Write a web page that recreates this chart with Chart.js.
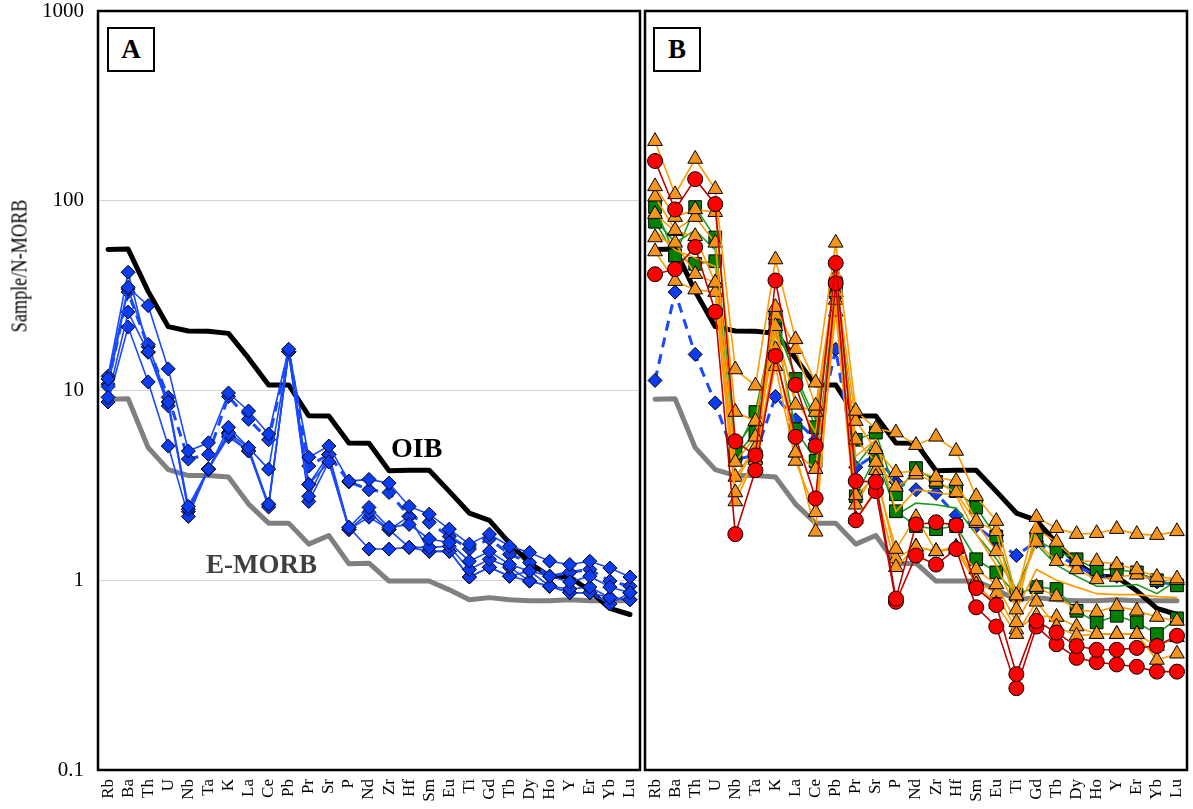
<!DOCTYPE html>
<html>
<head>
<meta charset="utf-8">
<script src="https://cdn.jsdelivr.net/npm/chart.js@4"></script>
<style>
  html, body { margin: 0; padding: 0; background: #fff; }
  #wrap { position: relative; width: 1193px; height: 809px; overflow: hidden; background: #fff; font-family: 'Liberation Serif', 'Times New Roman', serif; }
  canvas { position: absolute; top: 0; }
  #cA { left: 0; }
  #cB { left: 642px; }
  .lbl { position: absolute; font-family: 'Liberation Serif', serif; color: #000; white-space: nowrap; }
  .box { position: absolute; width: 44px; height: 41px; border: 2px solid #000; background: #fff; font-weight: bold; font-size: 27px; text-align: center; line-height: 41px; font-family: 'Liberation Serif', serif; }
  #ytitle { position: absolute; left: 19px; top: 266px; transform: translate(-50%, -50%) rotate(-90deg) scale(0.76, 1); font-size: 24px; font-family: 'Liberation Serif', serif; white-space: nowrap; }
</style>
</head>
<body>
<div id="wrap">
  <canvas id="cA" width="642" height="809"></canvas>
  <canvas id="cB" width="551" height="809"></canvas>
  <div id="ytitle">Sample/N-MORB</div>
  <div class="box" style="left:107px; top:27px;">A</div>
  <div class="box" style="left:653px; top:27px;">B</div>
  <div class="lbl" style="left:391px; top:432px; font-size:28px; font-weight:bold;">OIB</div>
  <div class="lbl" style="left:206px; top:549px; font-size:27px; font-weight:bold; color:#3f3f3f;">E-MORB</div>
</div>
<script>
// ---------- categories & ticks ----------
const elements = ['Rb','Ba','Th','U','Nb','Ta','K','La','Ce','Pb','Pr','Sr','P','Nd','Zr','Hf','Sm','Eu','Ti','Gd','Tb','Dy','Ho','Y','Er','Yb','Lu'];
const tickValues = [0.1, 1, 10, 100, 1000];

// ---------- reference lines (normalised to N-MORB) ----------
const oib   = [55.4, 55.6, 33.3, 21.7, 20.6, 20.5, 20, 14.8, 10.7, 10.7, 7.35, 7.33, 5.29, 5.27, 3.78, 3.80, 3.80, 2.94, 2.26, 2.07, 1.57, 1.23, 1.05, 1.04, 0.88, 0.71, 0.66];
const emorb = [9.0, 9.05, 5.0, 3.83, 3.56, 3.56, 3.5, 2.52, 2.0, 2.0, 1.55, 1.72, 1.22, 1.23, 0.99, 0.99, 0.99, 0.89, 0.79, 0.81, 0.79, 0.78, 0.78, 0.79, 0.78, 0.78, 0.78];

// ---------- panel A samples ----------
const a1 = [11.5, 35, 28, 13, 4.8, 5.3, 9.7, 7.8, 5.9, 16.5, 4.45, 5.1, 3.33, 3.4, 3.25, 2.45, 2.23, 1.86, 1.55, 1.75, 1.51, 1.40, 1.26, 1.21, 1.26, 1.16, 1.04];
const a2 = [11.9, 42, 16, 8.7, 2.45, 3.85, 6.4, 5.0, 3.85, 16, 3.2, 4.2, 1.9, 2.42, 1.9, 1.97, 1.65, 1.58, 1.26, 1.42, 1.21, 1.12, 1.05, 0.98, 1.05, 0.92, 0.86];
const a3 = [9.2, 25.9, 15.9, 8.3, 2.37, 3.85, 5.9, 4.8, 2.52, 16, 2.77, 4.6, 1.85, 2.28, 1.85, 1.49, 1.49, 1.51, 1.14, 1.29, 1.17, 0.99, 0.93, 0.90, 0.92, 0.81, 0.79];
const a4 = [8.7, 21.6, 11.1, 5.1, 2.17, 3.85, 5.7, 4.8, 2.43, 16, 2.6, 4.2, 1.85, 2.15, 1.85, 2.17, 1.42, 1.42, 1.04, 1.17, 1.05, 1.12, 0.93, 0.86, 0.86, 0.75, 0.86];
const a5 = [10.5, 34.2, 17.5, 8.7, 2.3, 3.85, 6.0, 5.0, 2.5, 16, 3.2, 4.6, 1.9, 1.46, 1.46, 1.49, 1.42, 1.42, 1.04, 1.17, 1.05, 0.99, 0.93, 0.86, 0.86, 0.81, 0.79];
const aDashed = [10.8, 33, 17, 9.2, 4.35, 4.6, 9.3, 7.05, 5.5, 16, 4.0, 4.6, 3.3, 3.0, 2.9, 2.17, 2.02, 1.7, 1.46, 1.65, 1.37, 1.24, 1.05, 1.10, 1.14, 0.99, 0.93];

// ---------- panel B samples ----------
const bDashed = [11.3, 33, 15.5, 8.6, 4.3, 4.6, 9.3, 7.0, 5.5, 16.5, 3.94, 4.6, 3.3, 3.0, 2.87, 2.2, 1.93, 1.6, 1.35, 1.6, 1.35, 1.2, 1.05, 1.05, 1.1, 0.98, 0.95];
const red1 = [162, 90, 130, 96, 5.4, 4.55, 38, 10.7, 5.1, 47, 3.33, 3.3, 0.8, 1.97, 2.02, 1.95, 0.91, 0.74, 0.32, 0.61, 0.53, 0.45, 0.43, 0.43, 0.44, 0.45, 0.51];
const red2 = [41, 43.6, 57, 26, 1.75, 3.8, 15.2, 5.7, 2.7, 36.7, 2.07, 2.95, 0.77, 1.35, 1.21, 1.46, 0.72, 0.57, 0.27, 0.57, 0.46, 0.39, 0.37, 0.36, 0.35, 0.33, 0.33];
const green1 = [92.6, 51.5, 92.6, 64, 4.7, 7.7, 24.3, 11.5, 6.4, 36.7, 5.5, 6.0, 2.84, 3.9, 3.3, 2.95, 2.42, 1.7, 0.84, 1.64, 1.42, 1.29, 1.14, 1.14, 1.1, 1.0, 0.94];
const green2 = [77.5, 51.5, 46.5, 48, 4.5, 6.0, 21, 6.25, 4.25, 33, 2.77, 4.5, 2.31, 1.93, 1.86, 1.93, 1.29, 1.1, 0.84, 0.92, 0.90, 0.69, 0.60, 0.65, 0.60, 0.52, 0.63];
const greenLine = [80, 60, 70, 55, 5, 7, 22, 12, 7, 38, 4.0, 5.5, 2.2, 2.55, 2.5, 2.4, 1.75, 1.3, 0.9, 1.55, 1.2, 1.05, 0.93, 0.93, 0.95, 0.85, 1.0];
const orange1 = [206, 108, 166, 115, 12.9, 10.6, 49, 18.6, 11.0, 60, 7.8, 6.3, 6.0, 5.15, 5.7, 4.8, 2.77, 2.05, 0.83, 2.15, 1.88, 1.75, 1.77, 1.86, 1.75, 1.73, 1.81];
const orange2 = [119, 82, 90, 87, 7.7, 6.9, 27.5, 16.5, 8.3, 40, 6.9, 4.9, 3.7, 3.75, 3.5, 3.33, 2.05, 1.81, 0.70, 1.86, 1.59, 1.26, 1.26, 1.21, 1.14, 1.04, 1.02];
const orange3 = [105, 70, 82, 60, 4.2, 5.7, 21.8, 8.4, 7.7, 33, 5.5, 4.2, 3.1, 3.6, 3.3, 2.9, 2.0, 1.42, 0.83, 1.59, 1.26, 1.14, 1.01, 1.04, 1.07, 1.0, 1.0];
const orange4 = [85, 69, 65, 37, 2.9, 4.3, 16.5, 4.7, 3.85, 30, 2.8, 3.5, 1.46, 2.15, 1.42, 1.46, 1.14, 0.95, 0.60, 0.92, 0.82, 0.70, 0.68, 0.73, 0.69, 0.64, 0.61];
const orange5 = [54, 37.7, 34, 33, 2.6, 4.4, 13.4, 4.25, 2.28, 26, 2.1, 3.0, 1.17, 1.5, 1.42, 1.46, 0.95, 0.75, 0.52, 0.77, 0.57, 0.51, 0.52, 0.52, 0.52, 0.38, 0.41];
const orange6 = [64, 60, 41, 37, 3.5, 5.0, 25, 4.7, 1.8, 33, 2.5, 3.8, 1.3, 1.5, 1.42, 1.5, 1.0, 0.85, 0.55, 0.65, 0.64, 0.57, 0.52, 0.52, 0.52, 0.45, 0.5];
const orangeLine = [70, 55, 50, 45, 3.3, 5.0, 20, 9, 6, 35, 4.5, 5.5, 2.3, 3.0, 2.9, 2.8, 1.75, 1.2, 0.70, 1.14, 1.0, 0.92, 0.85, 0.84, 0.84, 0.82, 0.81];

// ---------- styles ----------
const BLUE_LINE = '#1848ff', BLUE_FILL = '#0b3cf0';
const ORANGE_LINE = '#ff9a00', ORANGE_FILL = '#f7941d';
const RED_LINE = '#c00000', RED_FILL = '#ff0000';
const GREEN_LINE = '#1f9a1f', GREEN_FILL = '#008000';

function refLine(data, color) {
  return { data, borderColor: color, borderWidth: 5, pointRadius: 0, fill: false, order: 10, borderCapStyle: 'round', borderJoinStyle: 'round' };
}
function blueSolid(data) {
  return { data, borderColor: BLUE_LINE, borderWidth: 1.6, pointStyle: 'rectRot', pointRadius: 7,
    pointBackgroundColor: BLUE_FILL, pointBorderColor: '#000', pointBorderWidth: 1, fill: false, order: 3 };
}
function blueDashed(data, order) {
  return { data, borderColor: BLUE_LINE, borderWidth: 3, borderDash: [10, 7], pointStyle: 'rectRot', pointRadius: 7,
    pointBackgroundColor: BLUE_FILL, pointBorderColor: '#000', pointBorderWidth: 1, fill: false, order };
}
function series(data, line, fillC, style, radius, order) {
  return { data, borderColor: line, borderWidth: 1.6, pointStyle: style, pointRadius: radius,
    pointBackgroundColor: fillC, pointBorderColor: '#000', pointBorderWidth: 1, fill: false, order };
}
function plainLine(data, line, order) {
  return { data, borderColor: line, borderWidth: 1.6, pointRadius: 0, fill: false, order };
}

const framePlugin = {
  id: 'frame',
  afterDraw(chart) {
    const { ctx, chartArea: a } = chart;
    ctx.save();
    ctx.strokeStyle = '#000';
    ctx.lineWidth = 2.5;
    ctx.strokeRect(a.left, a.top, a.right - a.left, a.bottom - a.top);
    ctx.restore();
  }
};

function makeOptions(showY, padding) {
  return {
    responsive: false,
    animation: false,
    devicePixelRatio: 1,
    layout: { padding, autoPadding: false },
    plugins: { legend: { display: false }, tooltip: { enabled: false } },
    elements: { line: { tension: 0 } },
    scales: {
      x: {
        type: 'category',
        offset: true,
        grid: { display: false, drawTicks: false },
        border: { display: false },
        ticks: { autoSkip: false, minRotation: 90, maxRotation: 90, padding: 9, color: '#000',
                 font: { family: 'Liberation Serif', size: 17 } },
        afterFit: (s) => { s.height = 39; s.paddingLeft = 0; s.paddingRight = 0; }
      },
      y: {
        type: 'logarithmic',
        min: 0.1, max: 1000,
        display: showY,
        afterBuildTicks: (axis) => { axis.ticks = tickValues.map(v => ({ value: v })); },
        grid: {
          drawTicks: false,
          color: (c) => (c.tick && [1, 10, 100].includes(c.tick.value)) ? '#d4d4d4' : 'rgba(0,0,0,0)',
          lineWidth: 1
        },
        border: { display: false },
        ticks: { padding: 14, color: '#000', font: { family: 'Liberation Serif', size: 21 },
                 callback: (v) => String(v) },
        afterFit: (s) => { s.width = showY ? 98 : 0; s.paddingTop = 0; s.paddingBottom = 0; }
      }
    }
  };
}

new Chart(document.getElementById('cA'), {
  type: 'line',
  data: {
    labels: elements,
    datasets: [
      blueSolid(a1), blueSolid(a2), blueSolid(a3), blueSolid(a4), blueSolid(a5),
      blueDashed(aDashed, 4),
      refLine(oib, '#000000'),
      refLine(emorb, '#808080')
    ]
  },
  options: makeOptions(true, { left: 0, right: 2, top: 11, bottom: 0 }),
  plugins: [framePlugin]
});

new Chart(document.getElementById('cB'), {
  type: 'line',
  data: {
    labels: elements,
    datasets: [
      series(red1, RED_LINE, RED_FILL, 'circle', 7.5, 1),
      series(red2, RED_LINE, RED_FILL, 'circle', 7.5, 1),
      series(orange1, ORANGE_LINE, ORANGE_FILL, 'triangle', 8.5, 2),
      series(orange2, ORANGE_LINE, ORANGE_FILL, 'triangle', 8.5, 2),
      series(orange3, ORANGE_LINE, ORANGE_FILL, 'triangle', 8.5, 2),
      series(orange4, ORANGE_LINE, ORANGE_FILL, 'triangle', 8.5, 2),
      series(orange5, ORANGE_LINE, ORANGE_FILL, 'triangle', 8.5, 2),
      series(orange6, ORANGE_LINE, ORANGE_FILL, 'triangle', 8.5, 2),
      plainLine(orangeLine, ORANGE_LINE, 2),
      series(green1, GREEN_LINE, GREEN_FILL, 'rect', 9, 3),
      series(green2, GREEN_LINE, GREEN_FILL, 'rect', 9, 3),
      plainLine(greenLine, GREEN_LINE, 3),
      blueDashed(bDashed, 5),
      refLine(oib, '#000000'),
      refLine(emorb, '#808080')
    ]
  },
  options: makeOptions(false, { left: 3, right: 6, top: 11, bottom: 0 }),
  plugins: [framePlugin]
});
</script>
</body>
</html>
